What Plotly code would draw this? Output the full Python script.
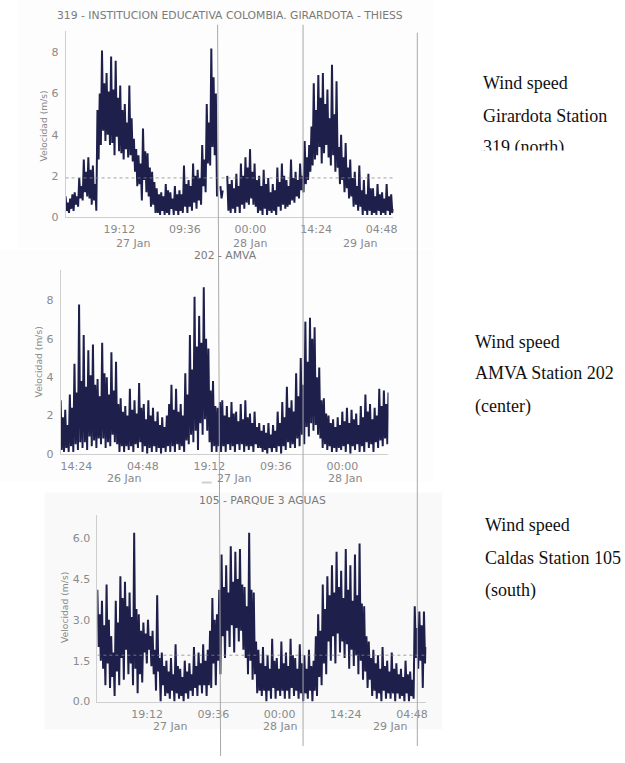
import plotly.graph_objects as go
import pandas as pd

W, H = 625, 763

# ---------------- data ----------------
titles = ["319 - INSTITUCION EDUCATIVA COLOMBIA. GIRARDOTA - THIESS",
          "202 - AMVA",
          "105 - PARQUE 3 AGUAS"]
starts = ["2019-01-26 07:24", "2019-01-25 11:00", "2019-01-26 08:24"]
step = "15min"

speed_319 = [1.0, 0.3, 0.7, 0.2, 0.9, 0.4, 1.1, 0.3, 1.2, 0.6, 1.0, 0.5, 1.9, 0.9, 1.5, 0.8, 2.8, 1.2, 2.2, 1.0,
             2.9, 0.9, 2.3, 0.6, 2.5, 0.8, 1.6, 0.3, 5.2, 2.8, 6.0, 3.5, 8.1, 4.2, 6.5, 3.7, 7.0, 4.0, 6.1, 3.5,
             7.8, 3.6, 6.2, 3.0, 7.6, 3.9, 5.8, 3.2, 6.4, 3.1, 5.2, 2.8, 5.5, 3.3, 4.6, 2.9, 6.4, 3.0, 4.8, 2.7,
             3.8, 2.2, 3.3, 1.5, 3.0, 1.6, 2.6, 0.8, 4.3, 1.8, 3.2, 1.2, 3.1, 1.0, 2.4, 0.5, 2.2, 0.6, 1.7, 0.2,
             1.4, 0.2, 1.1, 0.1, 1.2, 0.3, 1.0, 0.1, 1.6, 0.2, 1.3, 0.1, 1.2, 0.4, 0.9, 0.1, 1.5, 0.3, 1.1, 0.1,
             1.3, 0.3, 1.1, 0.2, 2.5, 0.5, 1.6, 0.2, 1.8, 0.5, 1.5, 0.3, 2.6, 0.7, 2.0, 0.4, 2.3, 0.8, 1.9, 0.6,
             3.5, 1.5, 2.8, 1.2, 5.5, 2.6, 4.6, 2.5, 8.2, 3.4, 6.8, 3.0, 6.0, 1.0, None, None, 1.5, 0.9, 1.3, None,
             None, None, 2.0, 0.3, 1.6, 0.2, 1.8, 0.4, 1.4, 0.2, 2.1, 0.5, 1.5, 0.2, 2.6, 0.6, 2.0, 0.4, 2.9, 0.7,
             2.4, 0.6, 3.3, 0.9, 2.2, 0.6, 2.6, 0.5, 1.8, 0.2, 2.0, 0.3, 1.5, 0.1, 2.3, 0.4, 1.6, 0.1, 1.9, 0.3,
             1.2, 0.2, 1.6, 0.3, 1.3, 0.1, 2.4, 0.5, 1.7, 0.3, 2.6, 0.6, 2.0, 0.4, 1.8, 0.5, 1.5, 0.6, 2.8, 0.8,
             1.9, 0.7, 2.2, 1.0, 1.8, 0.9, 2.6, 1.3, 2.0, 1.2, 3.7, 1.6, 2.9, 1.8, 3.5, 2.2, 4.4, 2.5, 6.5, 2.8,
             5.2, 3.0, 6.9, 3.4, 5.8, 2.6, 7.0, 3.1, 5.5, 3.5, 6.2, 2.9, 4.8, 2.5, 7.4, 3.0, 5.0, 2.2, 6.6, 2.4,
             3.4, 1.6, 4.0, 1.8, 2.9, 1.2, 3.6, 1.4, 2.4, 0.9, 2.8, 1.0, 1.9, 0.5, 2.2, 0.6, 1.5, 0.3, 2.5, 0.5,
             1.3, 0.1, 1.8, 0.3, 1.1, 0.1, 2.1, 0.3, 1.4, 0.1, 1.4, 0.2, 1.0, 0.1, 1.6, 0.3, 1.1, 0.1, 1.2, 0.2,
             0.9, 0.1, 1.6, 0.3, 1.0, 0.1, 1.1, 0.2, 0.4]

speed_202 = [2.8, 0.2, 1.9, 0.1, 2.3, 0.3, 1.5, 0.1, 3.1, 0.4, 2.4, 0.1, 4.7, 0.5, 3.2, 0.2, 7.8, 0.6, 3.8, 0.3,
             6.2, 0.6, 3.5, 0.2, 5.4, 0.9, 4.1, 0.4, 5.7, 0.7, 3.6, 0.3, 3.9, 0.8, 3.0, 0.5, 5.8, 0.8, 4.2, 0.3,
             4.0, 0.6, 3.1, 0.4, 5.3, 1.0, 3.3, 0.6, 4.8, 0.5, 2.6, 0.1, 2.9, 0.4, 2.2, 0.1, 2.5, 0.4, 2.0, 0.2,
             3.4, 0.4, 2.3, 0.1, 2.8, 0.5, 2.1, 0.3, 3.7, 0.6, 2.4, 0.1, 2.6, 0.4, 1.8, 0.0, 2.8, 0.3, 2.0, 0.1,
             2.4, 0.4, 1.7, 0.1, 2.2, 0.3, 1.5, 0.0, 1.9, 0.3, 1.4, 0.1, 2.0, 0.4, 2.6, 0.1, 3.6, 0.4, 2.3, 0.1,
             3.4, 0.5, 2.2, 0.2, 2.6, 0.4, 2.0, 0.1, 4.2, 0.7, 3.1, 0.5, 6.2, 1.0, 4.4, 0.6, 8.2, 1.2, 5.6, 0.2,
             7.2, 1.6, 5.8, 1.0, 8.7, 1.8, 6.0, 1.2, 5.5, 0.6, 3.3, 0.1, 3.8, 0.4, 2.5, 0.1, 2.4, 0.4, 2.7, 0.1,
             2.8, 0.4, 2.0, 0.1, 2.5, 0.5, 1.9, 0.2, 2.7, 0.4, 2.1, 0.1, 2.2, 0.5, 1.7, 0.2, 2.6, 0.5, 1.8, 0.1,
             2.8, 0.4, 1.9, 0.2, 2.1, 0.4, 1.6, 0.1, 2.2, 0.5, 1.4, 0.3, 1.6, 0.3, 1.2, 0.1, 1.5, 0.2, 1.1, 0.0,
             1.6, 0.3, 1.0, 0.1, 1.5, 0.3, 1.2, 0.1, 2.2, 0.4, 1.6, 0.0, 2.7, 0.4, 1.9, 0.2, 3.5, 0.6, 2.4, 0.3,
             2.8, 0.5, 2.2, 0.3, 4.2, 0.8, 3.0, 0.4, 5.0, 1.0, 3.6, 0.5, 6.9, 1.4, 4.8, 0.9, 7.1, 1.6, 6.0, 1.2,
             6.6, 1.5, 4.0, 1.0, 4.5, 0.8, 2.8, 0.3, 2.9, 0.5, 2.1, 0.2, 2.0, 0.4, 1.6, 0.1, 1.8, 0.3, 1.4, 0.1,
             1.9, 0.3, 1.5, 0.2, 2.2, 0.4, 1.7, 0.1, 2.4, 0.5, 1.6, 0.0, 2.3, 0.4, 1.8, 0.2, 2.1, 0.5, 1.5, 0.1,
             2.5, 0.4, 1.9, 0.1, 3.1, 0.6, 2.2, 0.3, 2.6, 0.5, 1.8, 0.1, 2.4, 0.6, 2.0, 0.3, 3.4, 0.7, 2.5, 0.4,
             3.3, 0.8, 2.6, 0.5, 3.2]

speed_105 = [4.1, 2.0, 3.2, 1.5, 3.7, 1.2, 2.8, 0.6, 4.3, 1.4, 3.0, 0.5, 2.4, 0.9, 1.8, 0.2, 3.7, 1.1, 2.9, 0.6,
             4.6, 1.6, 3.8, 0.8, 4.4, 1.9, 3.5, 1.0, 4.0, 1.4, 3.1, 0.6, 6.2, 1.2, 3.4, 0.3, 3.2, 1.0, 2.6, 0.7,
             2.9, 1.8, 2.5, 1.4, 3.0, 1.9, 2.4, 1.3, 2.6, 1.0, 1.9, 0.4, 3.9, 1.1, 1.6, 0.0, 1.8, 0.6, 1.3, 0.2,
             1.5, 0.3, 1.1, 0.1, 1.6, 0.4, 1.0, 0.0, 2.1, 0.3, 1.3, 0.1, 1.2, 0.2, 0.9, 0.0, 1.5, 0.3, 1.1, 0.1,
             1.4, 0.4, 1.0, 0.2, 2.0, 0.5, 1.3, 0.2, 1.8, 0.6, 1.4, 0.3, 2.1, 0.6, 1.5, 0.2, 1.9, 0.6, 2.6, 0.5,
             3.8, 1.4, 3.0, 0.6, 3.2, 1.5, 4.1, 1.0, 5.4, 2.4, 4.2, 1.6, 5.0, 2.6, 4.0, 2.0, 5.7, 2.8, 4.4, 1.8,
             5.5, 2.7, 4.5, 2.2, 5.6, 2.6, 4.3, 1.9, 4.2, 1.6, 3.5, 1.0, 6.2, 1.5, 4.1, 0.8, 4.0, 1.0, 2.2, 0.3,
             1.9, 0.4, 1.4, 0.2, 2.0, 0.4, 1.3, 0.0, 1.7, 0.4, 1.2, 0.1, 2.3, 0.5, 1.5, 0.1, 1.6, 0.4, 1.2, 0.2,
             2.2, 0.4, 1.4, 0.1, 1.8, 0.4, 1.3, 0.1, 2.3, 0.5, 1.7, 0.2, 1.6, 0.4, 1.2, 0.1, 2.1, 0.3, 1.4, 0.0,
             1.7, 0.3, 1.2, 0.1, 1.9, 0.4, 1.3, 0.0, 1.5, 0.4, 2.4, 0.2, 3.2, 0.9, 2.6, 0.6, 4.3, 1.4, 3.4, 1.0,
             4.6, 2.2, 3.9, 1.5, 5.0, 2.4, 4.0, 1.4, 5.5, 2.5, 4.2, 1.8, 4.8, 2.2, 3.8, 1.6, 5.6, 2.1, 4.1, 1.2,
             5.0, 1.9, 3.7, 1.3, 5.4, 1.7, 3.9, 1.0, 5.8, 1.5, 3.6, 0.8, 3.5, 1.1, 2.4, 0.5, 2.2, 0.8, 1.6, 0.2,
             1.9, 0.4, 1.4, 0.1, 1.7, 0.3, 1.2, 0.0, 2.0, 0.4, 1.3, 0.1, 1.5, 0.3, 1.1, 0.1, 1.8, 0.3, 1.2, 0.0,
             1.4, 0.3, 1.0, 0.1, 1.2, 0.2, 0.9, 0.0, 1.5, 0.3, 1.0, 0.0, 1.1, 0.2, 0.8, 0.1, 3.5, 1.6, 2.7, 1.2,
             3.3, 1.5, 2.8, 0.5, 3.3, 1.4, 2.0]

mean_lines = [1.9, None, 1.7]

tickvals_319 = ["2019-01-26 19:12", "2019-01-27 09:36", "2019-01-28 00:00",
                "2019-01-28 14:24", "2019-01-29 04:48"]
ticktext_319 = ["19:12", "09:36", "00:00", "14:24", "04:48"]
tickvals_202 = ["2019-01-25 14:24", "2019-01-26 04:48", "2019-01-26 19:12",
                "2019-01-27 09:36", "2019-01-28 00:00"]
ticktext_202 = ["14:24", "04:48", "19:12", "09:36", "00:00"]
tickvals_105 = ["2019-01-26 19:12", "2019-01-27 09:36", "2019-01-28 00:00",
                "2019-01-28 14:24", "2019-01-29 04:48"]
ticktext_105 = ["19:12", "09:36", "00:00", "14:24", "04:48"]

datepos_319 = ["2019-01-26 22:12", "2019-01-28 00:00", "2019-01-29 00:00"]
datepos_202 = ["2019-01-26 00:48", "2019-01-27 00:36", "2019-01-28 00:30"]
datepos_105 = ["2019-01-27 00:06", "2019-01-28 00:06", "2019-01-29 00:00"]
datetext_319 = ["27 Jan", "28 Jan", "29 Jan"]
datetext_202 = ["26 Jan", "27 Jan", "28 Jan"]
datetext_105 = ["27 Jan", "28 Jan", "29 Jan"]

yticks_319 = [0, 2, 4, 6, 8]
yticks_202 = [0, 2, 4, 6, 8]
yticks_105 = [0.0, 1.5, 3.0, 4.5, 6.0]
ytext_105 = ["0.0", "1.5", "3.0", "4.5", "6.0"]

side_319 = ["Wind speed", "Girardota Station", "319 (north)"]
side_202 = ["Wind speed", "AMVA Station 202", "(center)"]
side_105 = ["Wind speed", "Caldas Station 105", "(south)"]

# ---------------- layout helpers (pixel geometry) ----------------
def px(x):
    return x / W


def py(y):
    return 1 - y / H


panels = [
    dict(vals=speed_319, start=starts[0], xdom=(66, 396), ydom=(219, 31), ymax=9.06,
         tv=tickvals_319, tt=ticktext_319, yt=yticks_319, ytt=[str(v) for v in yticks_319],
         dp=datepos_319, dt=datetext_319, title=titles[0], tpos=(231, 16),
         ylab=(44, 127), date_y=246, mean=mean_lines[0]),
    dict(vals=speed_202, start=starts[1], xdom=(61, 391), ydom=(458, 273), ymax=9.57,
         tv=tickvals_202, tt=ticktext_202, yt=yticks_202, ytt=[str(v) for v in yticks_202],
         dp=datepos_202, dt=datetext_202, title=titles[1], tpos=(227, 258),
         ylab=(39, 365), date_y=483, mean=mean_lines[1]),
    dict(vals=speed_105, start=starts[2], xdom=(98, 429), ydom=(708, 520), ymax=6.84,
         tv=tickvals_105, tt=ticktext_105, yt=yticks_105, ytt=ytext_105,
         dp=datepos_105, dt=datetext_105, title=titles[2], tpos=(264, 505),
         ylab=(65, 613), date_y=733, mean=mean_lines[2]),
]

GRAY_TXT = "#8a8a8a"
AX_LINE = "#cfcfcf"
NAVY = "#1e1f4b"
FONT = "DejaVu Sans"

fig = go.Figure()
annotations = []
shapes = []
layout = {}

# faint panel backgrounds (the original is a composite of screenshots)
for (x0, y0, x1, y1, c) in [(18, 0, 436, 250, "#fdfdfd"), (0, 252, 436, 486, "#fdfdfd"),
                            (45, 497, 445, 736, "#f9f9f9")]:
    shapes.append(dict(type="rect", xref="paper", yref="paper", x0=px(x0), x1=px(x1),
                       y0=py(y1), y1=py(y0), fillcolor=c, line=dict(width=0),
                       layer="below"))

for k, p in enumerate(panels, start=1):
    xs = pd.date_range(p["start"], periods=len(p["vals"]), freq=step)
    xa = "x" if k == 1 else f"x{k}"
    ya = "y" if k == 1 else f"y{k}"
    fig.add_trace(go.Scatter(x=xs, y=p["vals"], mode="lines", connectgaps=False,
                             line=dict(color=NAVY, width=2.0),
                             xaxis=xa, yaxis=ya))
    if p["mean"] is not None:
        fig.add_trace(go.Scatter(x=[xs[0], xs[-1]], y=[p["mean"], p["mean"]], mode="lines",
                                 line=dict(color="#8a8a8a", width=1, dash="dot"),
                                 opacity=0.8, xaxis=xa, yaxis=ya, hoverinfo="skip"))
    layout[f"xaxis{'' if k == 1 else k}"] = dict(
        domain=[px(p["xdom"][0]), px(p["xdom"][1])],
        range=[xs[0], xs[-1]], anchor=ya, showgrid=False, zeroline=False,
        showline=True, linecolor=AX_LINE, linewidth=1, ticks="",
        tickvals=p["tv"], ticktext=p["tt"], ticklabelstandoff=2,
        tickfont=dict(family=FONT, size=11, color=GRAY_TXT))
    layout[f"yaxis{'' if k == 1 else k}"] = dict(
        domain=[py(p["ydom"][0]), py(p["ydom"][1])],
        range=[0, p["ymax"]], anchor=xa, showgrid=False, zeroline=False,
        showline=True, linecolor=AX_LINE, linewidth=1, ticks="",
        tickvals=p["yt"], ticktext=p["ytt"], ticklabelstandoff=4,
        tickfont=dict(family=FONT, size=11, color=GRAY_TXT))
    # date labels under time ticks
    for d, t in zip(p["dp"], p["dt"]):
        annotations.append(dict(x=d, y=py(p["date_y"]), xref=xa, yref="paper", text=t,
                                showarrow=False, xanchor="center", yanchor="middle",
                                font=dict(family=FONT, size=11, color=GRAY_TXT)))
    # title
    annotations.append(dict(x=px(p["tpos"][0]), y=py(p["tpos"][1]), xref="paper", yref="paper",
                            text=p["title"], showarrow=False, xanchor="center", yanchor="middle",
                            font=dict(family=FONT, size=10.8, color="#7a7a7a")))
    # y axis label
    annotations.append(dict(x=px(p["ylab"][0]), y=py(p["ylab"][1]), xref="paper", yref="paper",
                            text="Velocidad (m/s)", textangle=-90, showarrow=False,
                            xanchor="center", yanchor="middle",
                            font=dict(family=FONT, size=9.2, color=GRAY_TXT)))

# side text block 1 (clipped at bottom like the original) via a text trace on a hidden axis
clip_top, clip_bot = 60, 152
fig.add_trace(go.Scatter(x=[(486 - 460) / 165] * 3,
                         y=[(clip_bot - yy) / (clip_bot - clip_top) for yy in (85, 119, 150)],
                         text=side_319, mode="text", textposition="middle right",
                         textfont=dict(family="Liberation Serif", size=18, color="#111111"),
                         xaxis="x4", yaxis="y4", cliponaxis=True, hoverinfo="skip"))
layout["xaxis4"] = dict(domain=[px(460), 1], range=[0, 1], visible=False, anchor="y4",
                        fixedrange=True)
layout["yaxis4"] = dict(domain=[py(clip_bot), py(clip_top)], range=[0, 1], visible=False,
                        anchor="x4", fixedrange=True)

for lines, x0, ys in [(side_202, 476, (345, 376, 410)), (side_105, 486, (530, 563, 596))]:
    for t, yy in zip(lines, ys):
        annotations.append(dict(x=px(x0), y=py(yy), xref="paper", yref="paper", text=t,
                                showarrow=False, xanchor="left", yanchor="middle",
                                font=dict(family="Liberation Serif", size=18, color="#111111")))

# long vertical reference lines drawn across the composite
for (x0, y0, x1, y1) in [(219, 25, 222, 763), (305, 25, 305, 753), (420, 33, 420, 753)]:
    shapes.append(dict(type="line", xref="paper", yref="paper", x0=px(x0), x1=px(x1),
                       y0=py(y0), y1=py(y1), line=dict(color="#a8a8a8", width=1), layer="above"))
# small mark below panel 2
shapes.append(dict(type="line", xref="paper", yref="paper", x0=px(203), x1=px(213),
                   y0=py(487), y1=py(487), line=dict(color="#d0d0d0", width=2)))

fig.update_layout(width=W, height=H, margin=dict(l=0, r=0, t=0, b=0),
                  paper_bgcolor="white", plot_bgcolor="rgba(0,0,0,0)", showlegend=False,
                  annotations=annotations, shapes=shapes, **layout)

fig.write_html("out.html")
